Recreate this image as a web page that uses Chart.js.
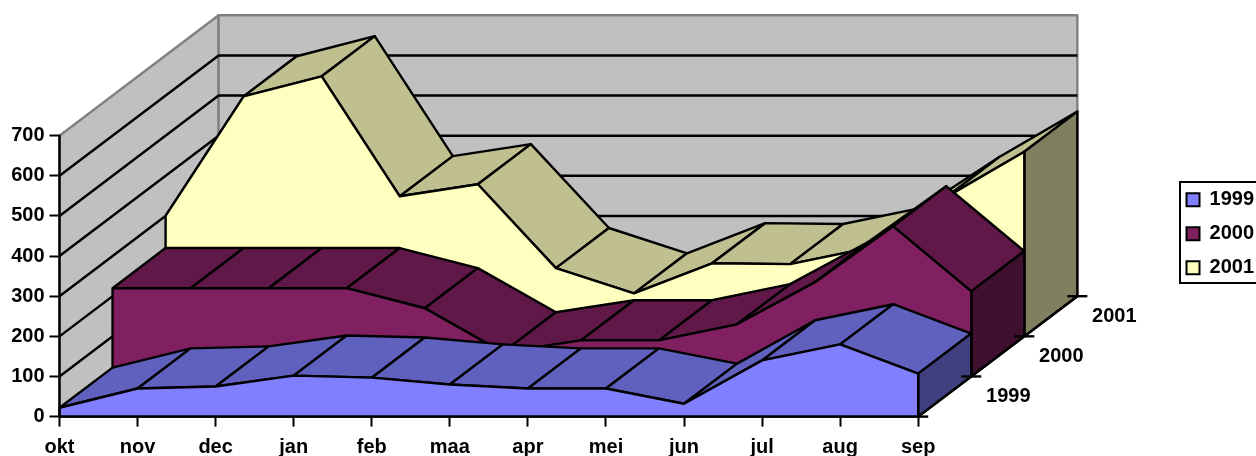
<!DOCTYPE html>
<html><head><meta charset="utf-8">
<style>html,body{margin:0;padding:0;background:#fff;overflow:hidden}#w{width:1256px;height:456px}</style>
<script src="https://cdn.jsdelivr.net/npm/chart.js@4"></script>
</head><body><div id="w"><canvas id="c"></canvas></div>
<script>
const categories = ['okt','nov','dec','jan','feb','maa','apr','mei','jun','jul','aug','sep'];
const seriesNames = ['1999','2000','2001'];
const values1999 = [22,70,75,102,97,80,70,70,32,140,180,107];
const values2000 = [220,220,220,220,170,60,90,90,130,235,374,212];
const values2001 = [300,598,648,349,379,170,107,182,180,220,347,460];
const yTicks = [0,100,200,300,400,500,600,700];

const FONT = {family:'"Liberation Sans", Arial, sans-serif', size:20, weight:'bold'};
const DX = 53/78, DZ = 100, DEPTHS = 3;          // oblique projection of one series step
const P = (i,d,v) => ({x:i+d*DX, y:v+d*DZ});
const N = categories.length-1;
const LW = 2.4;
const sets = [];
const poly = (pts,fill,stroke='#000') => sets.push({data:pts.concat(fill?[pts[0]]:[]),showLine:true,fill:fill?'shape':false,
  backgroundColor:fill||'transparent',borderColor:stroke,borderWidth:LW,pointRadius:0,clip:false,borderJoinStyle:'round',label:'s'+sets.length});

// walls
poly([P(0,0,0),P(0,0,700),P(0,DEPTHS,700),P(0,DEPTHS,0)],'#C0C0C0','#808080');
poly([P(0,DEPTHS,0),P(0,DEPTHS,700),P(N,DEPTHS,700),P(N,DEPTHS,0)],'#C0C0C0','#808080');
// gridlines
yTicks.slice(1,-1).forEach(v=>{poly([P(0,0,v),P(0,DEPTHS,v),P(N,DEPTHS,v)],null);});
// series slabs, back to front
const slabs = [
 {d:2,v:values2001,front:'#FFFFC0',top:'#BFBF90',side:'#808060'},
 {d:1,v:values2000,front:'#802060',top:'#601848',side:'#401030'},
 {d:0,v:values1999,front:'#8080FF',top:'#6060BF',side:'#404080'}];
slabs.forEach(s=>{
  for(let i=0;i<N;i++) poly([P(i,s.d,s.v[i]),P(i+1,s.d,s.v[i+1]),P(i+1,s.d+1,s.v[i+1]),P(i,s.d+1,s.v[i])],s.top);
  poly([P(N,s.d,0),P(N,s.d,s.v[N]),P(N,s.d+1,s.v[N]),P(N,s.d+1,0)],s.side);
  poly([P(0,s.d,0)].concat(s.v.map((v,i)=>P(i,s.d,v)),[P(N,s.d,0)]),s.front);
});
// axes
poly([P(0,0,700),P(0,0,0),P(N,0,0),P(N,DEPTHS,0)],null);
poly([P(N,0,0),{x:N+10/78,y:0}],null);
[1,2,3].forEach(d=>poly([{x:N+d*DX-10/78,y:d*DZ},{x:N+d*DX+10/78,y:d*DZ}],null));

const legendColors = ['#8080FF','#802060','#FFFFC0'];
const extras = {id:'extras',
  afterLayout(chart){ const l=chart.legend; l.left+=8; l.right+=8; l.top-=2; l.bottom-=2; },
  afterDraw(chart){
    const {ctx,scales:{x,y}} = chart;
    ctx.save();
    ctx.font = `${FONT.weight} ${FONT.size}px ${FONT.family}`;
    ctx.fillStyle='#000'; ctx.textAlign='center'; ctx.textBaseline='middle';
    seriesNames.forEach((n,k)=>{const d=k+1;
      ctx.fillText(n, x.getPixelForValue(N+d*DX)+37, y.getPixelForValue(d*DZ)+20);});
    ctx.strokeStyle='#000'; ctx.lineWidth=2;
    ctx.strokeRect(1180,182,100,101);
    ctx.restore();
  }};

new Chart(document.getElementById('c'),{
  type:'scatter',
  data:{datasets:sets.slice().reverse()},
  plugins:[extras],
  options:{
    responsive:true,maintainAspectRatio:false,animation:false,
    layout:{padding:{top:15.3,left:0,right:0,bottom:0}},
    plugins:{
      tooltip:{enabled:false},
      legend:{position:'right',labels:{boxWidth:13,boxHeight:13,padding:14,color:'#000',font:FONT,
        generateLabels:()=>seriesNames.map((t,i)=>({text:t,fillStyle:legendColors[i],strokeStyle:'#000',lineWidth:2,fontColor:'#000',hidden:false}))}}
    },
    scales:{
      x:{type:'linear',min:0,max:14.155,
        afterBuildTicks:s=>{s.ticks=categories.map((_,i)=>({value:i}));},
        afterFit:s=>{s.height=39.4;},
        border:{display:false},
        grid:{drawOnChartArea:false,drawTicks:true,tickLength:10,tickWidth:2,tickColor:'#000'},
        ticks:{autoSkip:false,maxRotation:0,minRotation:0,padding:9,color:'#000',font:FONT,callback:v=>categories[v]}},
      y:{type:'linear',min:0,max:1000,
        afterBuildTicks:s=>{s.ticks=yTicks.map(v=>({value:v}));},
        afterFit:s=>{s.width=59.5;s.paddingTop=0;s.paddingBottom=0;},
        border:{display:false},
        grid:{drawOnChartArea:false,drawTicks:true,tickLength:10,tickWidth:2,tickColor:'#000'},
        ticks:{padding:5,color:'#000',font:FONT,callback:v=>String(v)}}
    }
  }
});
</script></body></html>
